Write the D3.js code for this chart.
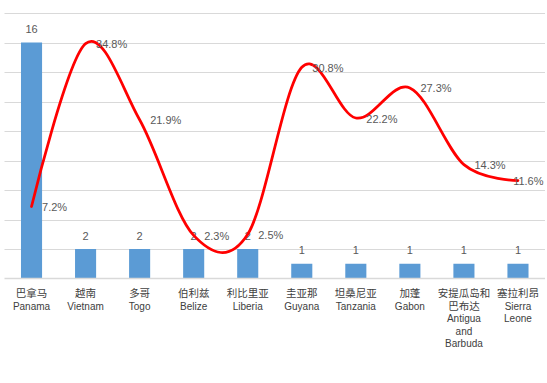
<!DOCTYPE html>
<html><head><meta charset="utf-8">
<script src="https://cdn.jsdelivr.net/npm/d3@7/dist/d3.min.js"></script>
<style>
html,body{margin:0;padding:0;background:#fff;}
svg{display:block;}
</style></head>
<body>
<svg id="chart" width="547" height="383"></svg>
<script>
const categoryLines = [
  ["巴拿马","Panama"],
  ["越南","Vietnam"],
  ["多哥","Togo"],
  ["伯利兹","Belize"],
  ["利比里亚","Liberia"],
  ["圭亚那","Guyana"],
  ["坦桑尼亚","Tanzania"],
  ["加蓬","Gabon"],
  ["安提瓜岛和","巴布达","Antigua","and","Barbuda"],
  ["塞拉利昂","Sierra","Leone"]
];
const counts = [16,2,2,2,2,1,1,1,1,1];
const shares = [7.2,34.8,21.9,2.3,2.5,30.8,22.2,27.3,14.3,11.6];
const countTicks = [0,2,4,6,8,10,12,14,16,18];
const shareDomain = [-5,40];

(function(){
const svg = d3.select("#chart");
const pLeft = 4.5, pRight = 545, pTop = 13, pBottom = 278.5;
const keys = categoryLines.map((d,i)=>i);

const x = d3.scaleBand().domain(keys).range([pLeft,pRight]).paddingInner(0.61).paddingOuter(0.305);
const y = d3.scaleLinear().domain([0,18]).range([pBottom,pTop]);
const y2 = d3.scaleLinear().domain(shareDomain).range([pBottom,pTop]);
const textColor = "#595959";

svg.append("g").selectAll("line").data(countTicks.slice(1)).join("line")
  .attr("x1",pLeft).attr("x2",pRight)
  .attr("y1",d=>Math.round(y(d))+0.5).attr("y2",d=>Math.round(y(d))+0.5)
  .attr("stroke","#D9D9D9").attr("stroke-width",1);

svg.append("g").selectAll("rect").data(counts).join("rect")
  .attr("x",(d,i)=>x(i)).attr("width",x.bandwidth())
  .attr("y",d=>y(d)).attr("height",d=>y(0)-y(d))
  .attr("fill","#5B9BD5");

svg.append("line").attr("x1",pLeft).attr("x2",pRight)
  .attr("y1",y(0)).attr("y2",y(0)).attr("stroke","#D9D9D9").attr("stroke-width",1.3);

svg.append("g").selectAll("text").data(counts).join("text")
  .attr("x",(d,i)=>x(i)+x.bandwidth()/2).attr("y",d=>y(d)-9.5)
  .attr("text-anchor","middle")
  .attr("font-family","Liberation Sans, Arial, sans-serif").attr("font-size",11)
  .attr("fill",textColor).text(d=>d);

const cx = i => x(i)+x.bandwidth()/2;
const line = d3.line().x((d,i)=>cx(i)).y(d=>y2(d)).curve(d3.curveCatmullRom.alpha(0));
svg.append("path").datum(shares).attr("d",line)
  .attr("fill","none").attr("stroke","#FF0000").attr("stroke-width",2.75)
  .attr("stroke-linecap","round").attr("stroke-linejoin","round");

const last = shares.length-1;
svg.append("g").selectAll("text").data(shares).join("text")
  .attr("x",(d,i)=> i===last ? pRight-1.5 : cx(i)+10.5)
  .attr("text-anchor",(d,i)=> i===last ? "end" : "start")
  .attr("y",d=>y2(d)+4.5)
  .attr("font-family","Liberation Sans, Arial, sans-serif").attr("font-size",11)
  .attr("fill",textColor).text(d=>d.toFixed(1)+"%");

const cat = svg.append("g").selectAll("text").data(categoryLines).join("text")
  .attr("x",(d,i)=>cx(i)).attr("y",297)
  .attr("text-anchor","middle")
  .attr("font-family","Liberation Sans, Arial, 'Noto Sans CJK SC', sans-serif").attr("font-size",10)
  .attr("fill","#404040");
const isCJK = s => /[\u4e00-\u9fff]/.test(s);
cat.each(function(d,i){
  const t = d3.select(this);
  d.forEach((s,j)=>{
    t.append("tspan").attr("x",cx(i)).attr("dy", j===0?0:12.6)
      .attr("font-size", isCJK(s) ? 10.5 : 10)
      .attr("font-family", isCJK(s) ? "'Noto Sans CJK SC', sans-serif" : "Liberation Sans, Arial, sans-serif")
      .text(s);
  });
});
})();
</script>
</body></html>
